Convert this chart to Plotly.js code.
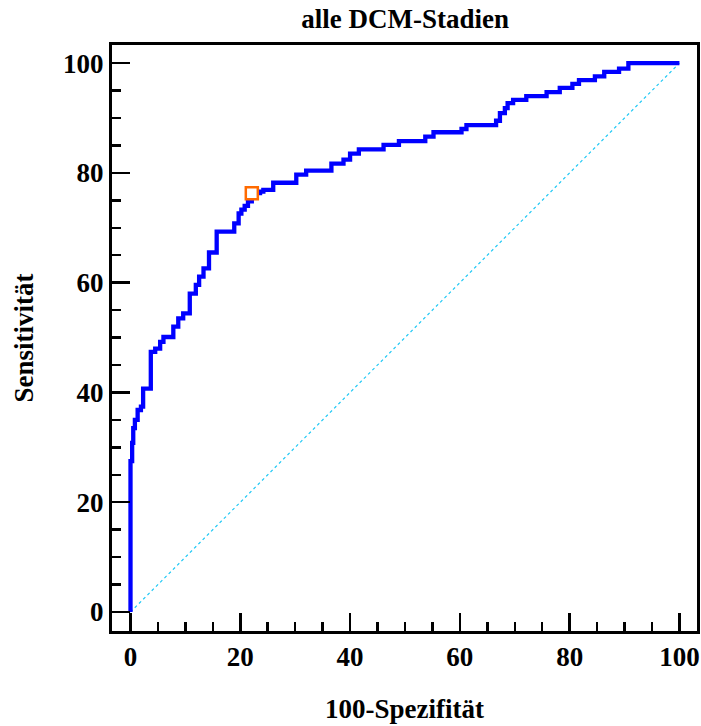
<!DOCTYPE html>
<html>
<head>
<meta charset="utf-8">
<script src="https://cdn.plot.ly/plotly-3.0.1.min.js"></script>
<style>
html,body{margin:0;padding:0;background:#fff;}
#chart{width:701px;height:726px;}
</style>
</head>
<body>
<div id="chart"></div>
<script>
// ROC curve step points (100-Spezifität, Sensitivität)
const fpr = [0, 0, 0.3, 0.5, 0.8, 1.3, 1.9, 2.3, 3.7, 4.5, 5.4, 6.0, 7.8, 8.7, 9.6, 10.8, 11.9, 12.5, 13.3, 14.3, 15.7, 18.9, 19.7, 20.2, 20.8, 21.4, 22.1, 23.6, 24.2, 26.0, 30.2, 32.0, 36.6, 38.8, 40.0, 41.6, 46.1, 48.9, 53.7, 55.2, 60.3, 61.2, 66.6, 67.3, 68.2, 68.7, 69.7, 72.1, 75.8, 78.2, 80.5, 81.7, 84.6, 86.3, 89.0, 90.7, 100];
const sens = [0, 27.5, 30.8, 33.5, 35.0, 36.8, 37.4, 40.7, 47.4, 48.0, 49.2, 50.1, 52.0, 53.5, 54.4, 58.0, 59.6, 61.1, 62.6, 65.5, 69.3, 70.8, 72.6, 73.3, 74.0, 74.8, 76.3, 76.6, 76.9, 78.2, 79.7, 80.4, 81.7, 82.4, 83.5, 84.3, 85.1, 85.8, 86.6, 87.4, 88.0, 88.7, 89.5, 90.9, 91.8, 92.7, 93.3, 94.0, 94.7, 95.5, 96.2, 96.9, 97.6, 98.4, 99.0, 100, 100];
// Reference diagonal
const diagX = [0, 100];
const diagY = [0, 100];
// Optimal criterion point
const critX = [22.1];
const critY = [76.3];
const tickVals = [0, 20, 40, 60, 80, 100];
const tickText = ['0', '20', '40', '60', '80', '100'];

const font = {family: 'Liberation Serif, Times New Roman, serif', color: '#000', size: 27, weight: 'bold'};

const traces = [
  {x: diagX, y: diagY, mode: 'lines', line: {color: '#1ec8f5', width: 1.2, dash: 'dot'}, hoverinfo: 'skip', showlegend: false},
  {x: fpr, y: sens, mode: 'lines', line: {color: '#0000ff', width: 4.3, shape: 'hv'}, showlegend: false},
  {x: critX, y: critY, mode: 'markers', marker: {symbol: 'square', size: 12, color: '#ffffff', line: {width: 2.5, color: '#ff6a00'}}, showlegend: false}
];

const axisCommon = {
  showline: true, linecolor: '#000', linewidth: 3, mirror: true,
  ticks: 'inside', ticklen: 18, tickwidth: 2.5, tickcolor: '#000',
  tickvals: tickVals, ticktext: tickText,
  showgrid: false, zeroline: false,
  tickfont: font,
  minor: {dtick: 5, tick0: 0, ticks: 'inside', ticklen: 9, tickwidth: 2.5, tickcolor: '#000', showgrid: false}
};

const layout = {
  width: 701, height: 726,
  margin: {l: 112, r: 4, t: 45, b: 95},
  paper_bgcolor: '#fff', plot_bgcolor: '#fff',
  title: {text: 'alle DCM-Stadien', font: font, x: 0.578, xanchor: 'center', y: 0.975, yanchor: 'middle'},
  xaxis: Object.assign({}, axisCommon, {
    range: [-3.37, 103.2],
    title: {text: '100-Spezifität', font: font, standoff: 28}
  }),
  yaxis: Object.assign({}, axisCommon, {
    range: [-3.46, 103.3],
    title: {text: 'Sensitivität', font: font, standoff: 22}
  })
};

Plotly.newPlot('chart', traces, layout, {displayModeBar: false, staticPlot: true});
</script>
</body>
</html>
